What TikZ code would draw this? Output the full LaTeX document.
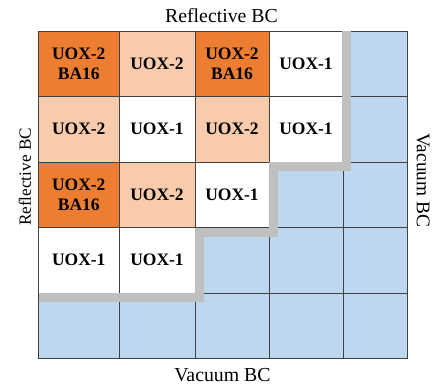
\documentclass[tikz,border=0pt]{standalone}
\usepackage{fontspec}
\setmainfont{Liberation Serif}
\definecolor{baorange}{HTML}{ED7D31}
\definecolor{uoxpeach}{HTML}{F8CBAD}
\definecolor{vacblue}{HTML}{BDD7EE}
\definecolor{wallgray}{HTML}{BFBFBF}
\definecolor{gridline}{HTML}{404040}
\tikzset{
  cell/.style={draw=gridline, line width=0.8pt, minimum height=65.5pt, inner sep=0pt,
    align=center, font=\fontsize{17.5}{20.5}\selectfont\bfseries},
  ba/.style={cell, fill=baorange},
  uoxtwo/.style={cell, fill=uoxpeach},
  uoxone/.style={cell, fill=white},
  water/.style={cell, fill=vacblue},
  colA/.style={minimum width=80.5pt},
  colB/.style={minimum width=76pt},
  colC/.style={minimum width=74pt},
  colD/.style={minimum width=74pt},
  colE/.style={minimum width=64pt},
  bclabel/.style={font=\fontsize{19.8}{24}\selectfont, inner sep=0pt}
}
\begin{document}
\begin{tikzpicture}[x=1pt,y=-1pt]
  \useasboundingbox (0,0) rectangle (433,385);

  % first row
  \node[ba,colA]     (c11) at (78.75,63.75) {UOX-2\\BA16};
  \node[uoxtwo,colB] (c12) at (157,63.75)   {UOX-2};
  \node[ba,colC]     (c13) at (232,63.75)   {UOX-2\\BA16};
  \node[uoxone,colD] (c14) at (306,63.75)   {UOX-1};
  \node[water,colE]  (c15) at (375,63.75)   {};

  % second row
  \node[uoxtwo,colA] (c21) at (78.75,129.25) {UOX-2};
  \node[uoxone,colB] (c22) at (157,129.25)   {UOX-1};
  \node[uoxtwo,colC] (c23) at (232,129.25)   {UOX-2};
  \node[uoxone,colD] (c24) at (306,129.25)   {UOX-1};
  \node[water,colE]  (c25) at (375,129.25)   {};

  % third row
  \node[ba,colA]     (c31) at (78.75,194.75) {UOX-2\\BA16};
  \node[uoxtwo,colB] (c32) at (157,194.75)   {UOX-2};
  \node[uoxone,colC] (c33) at (232,194.75)   {UOX-1};
  \node[water,colD]  (c34) at (306,194.75)   {};
  \node[water,colE]  (c35) at (375,194.75)   {};

  % fourth row
  \node[uoxone,colA] (c41) at (78.75,260.25) {UOX-1};
  \node[uoxone,colB] (c42) at (157,260.25)   {UOX-1};
  \node[water,colC]  (c43) at (232,260.25)   {};
  \node[water,colD]  (c44) at (306,260.25)   {};
  \node[water,colE]  (c45) at (375,260.25)   {};

  % fifth row
  \node[water,colA] (c51) at (78.75,325.75) {};
  \node[water,colB] (c52) at (157,325.75)   {};
  \node[water,colC] (c53) at (232,325.75)   {};
  \node[water,colD] (c54) at (306,325.75)   {};
  \node[water,colE] (c55) at (375,325.75)   {};

  % core boundary (the grey staircase)
  \draw[wallgray, line width=9pt] (346.5,31) -- (346.5,166.5) -- (273.5,166.5)
    -- (273.5,232) -- (199.5,232) -- (199.5,297.5) -- (38.5,297.5);

  % boundary conditions
  \node[bclabel, anchor=base] (top)    at (221.5,23)  {Reflective BC};
  \node[bclabel, anchor=base] (bottom) at (222.5,381) {Vacuum BC};
  \node[bclabel, font=\fontsize{17.2}{20}\selectfont, rotate=90]  (left)  at (25,177)  {Reflective BC};
  \node[bclabel, font=\fontsize{19.3}{23}\selectfont, rotate=-90] (right) at (423,180) {Vacuum BC};
\end{tikzpicture}
\end{document}
